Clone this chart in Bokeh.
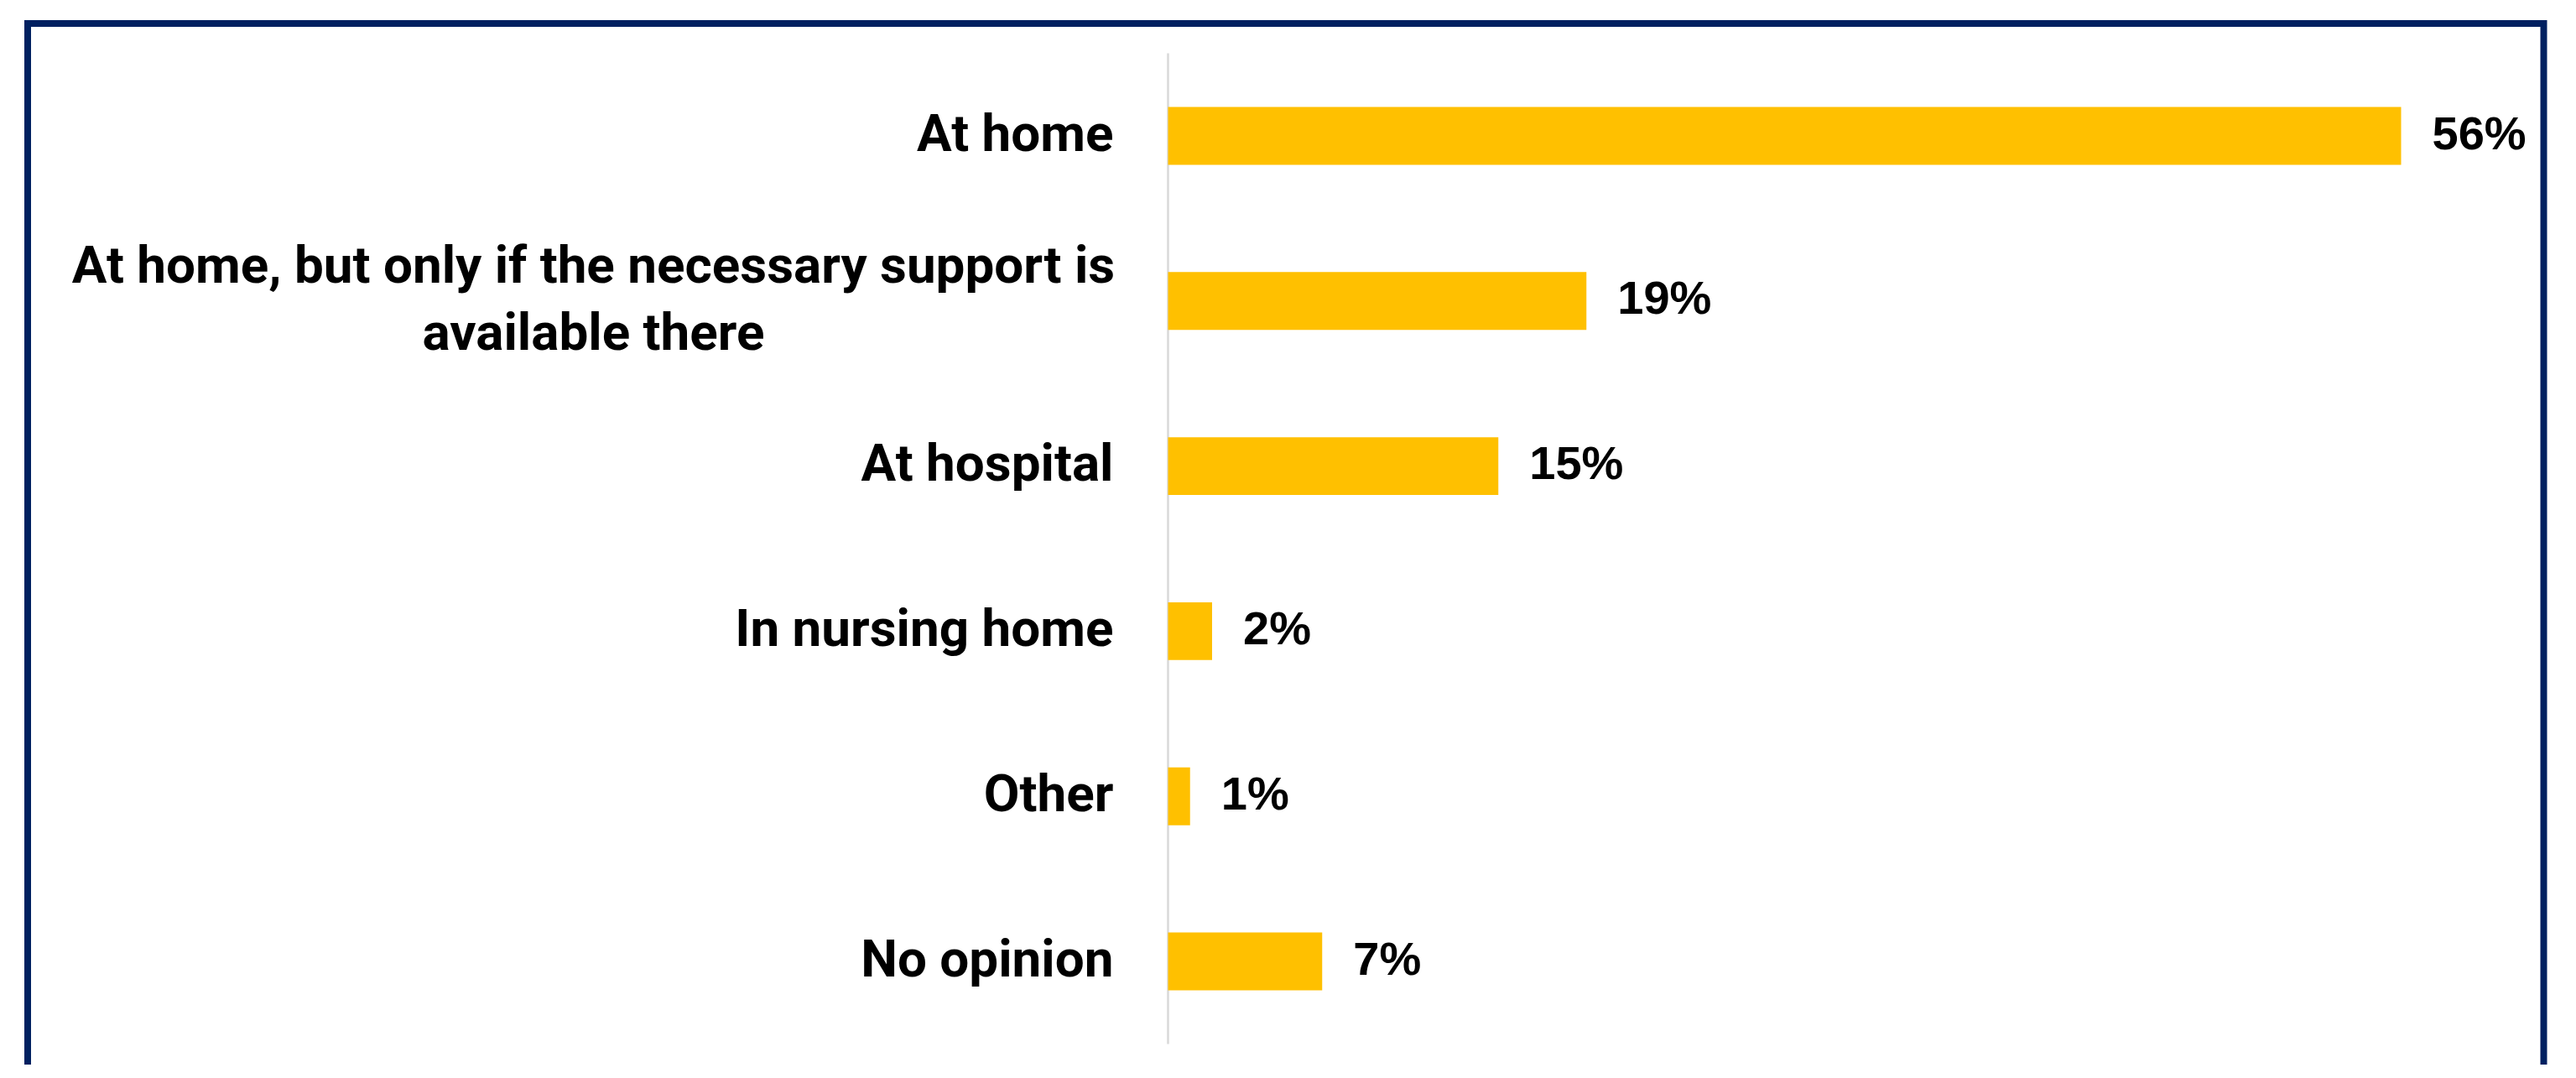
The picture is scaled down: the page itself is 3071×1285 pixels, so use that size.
from bokeh.plotting import figure
from bokeh.models import Range1d, ColumnDataSource
from bokeh.embed import file_html
from bokeh.resources import INLINE
from bokeh.core.properties import value

# ---- data ----
categories = [
    "At home",
    "At home, but only if the necessary support is\navailable there",
    "At hospital",
    "In nursing home",
    "Other",
    "No opinion",
]
values = [56, 19, 15, 2, 1, 7]
value_labels = [f"{v}%" for v in values]

# ---- layout constants (pixels) ----
W, H = 3055, 1269
ZERO_X = 1392.0      # canvas x of the 0 value
PX_PER_PCT = 26.25   # pixels per percentage point
ROW0 = 161.5         # canvas y of first category centre
ROW_PX = 196.8       # pixels per category band


def xd(px):
    return (px - ZERO_X) / PX_PER_PCT


def yd(py):
    return (py - ROW0) / ROW_PX


p = figure(width=W, height=H, output_backend="svg", toolbar_location=None,
           x_range=Range1d(xd(0), xd(W)), y_range=Range1d(yd(H), yd(0)),
           x_axis_location=None, y_axis_location=None, min_border=0)
p.outline_line_color = None
p.background_fill_color = "white"
p.border_fill_color = "white"
p.xgrid.visible = False
p.ygrid.visible = False

idx = list(range(len(categories)))

# frame border (decoration)
p.line(x=[xd(32.5), xd(32.5), xd(3032), xd(3032)],
       y=[yd(H + 50), yd(27.5), yd(27.5), yd(H + 50)],
       line_color="#002060", line_width=8, line_join="miter")

# axis line
p.segment(x0=[0], y0=[-0.5], x1=[0], y1=[len(categories) - 0.5],
          line_color="#D9D9D9", line_width=2.5)

# bars
src = ColumnDataSource(dict(y=idx, v=values, lab=value_labels))
p.hbar(y="y", left=0, right="v", height=0.35, source=src,
       fill_color="#FFC000", line_color=None)

# value labels
p.text(x="v", y="y", text="lab", source=src, x_offset=37, y_offset=-4,
       text_align="left", text_baseline="middle",
       text_font=value("Liberation Sans"), text_font_style="bold",
       text_font_size="56px", text_color="#000000")

# category labels
single = [(i, c) for i, c in zip(idx, categories) if "\n" not in c]
multi = [(i, c) for i, c in zip(idx, categories) if "\n" in c]

s1 = ColumnDataSource(dict(y=[i for i, _ in single], t=[c for _, c in single],
                           x=[0] * len(single)))
p.text(x="x", y="y", text="t", source=s1, x_offset=-65, y_offset=-4,
       text_align="right", text_baseline="middle",
       text_font=value("Roboto"), text_font_style="bold",
       text_font_size="62px", text_color="#000000")

s2 = ColumnDataSource(dict(y=[i for i, _ in multi], t=[c for _, c in multi],
                           x=[0] * len(multi)))
p.text(x="x", y="y", text="t", source=s2, x_offset=-685, y_offset=-3,
       text_align="center", text_baseline="middle", text_line_height=1.1,
       text_font=value("Roboto"), text_font_style="bold",
       text_font_size="62px", text_color="#000000")

open("out.html", "w").write(file_html(p, INLINE))
